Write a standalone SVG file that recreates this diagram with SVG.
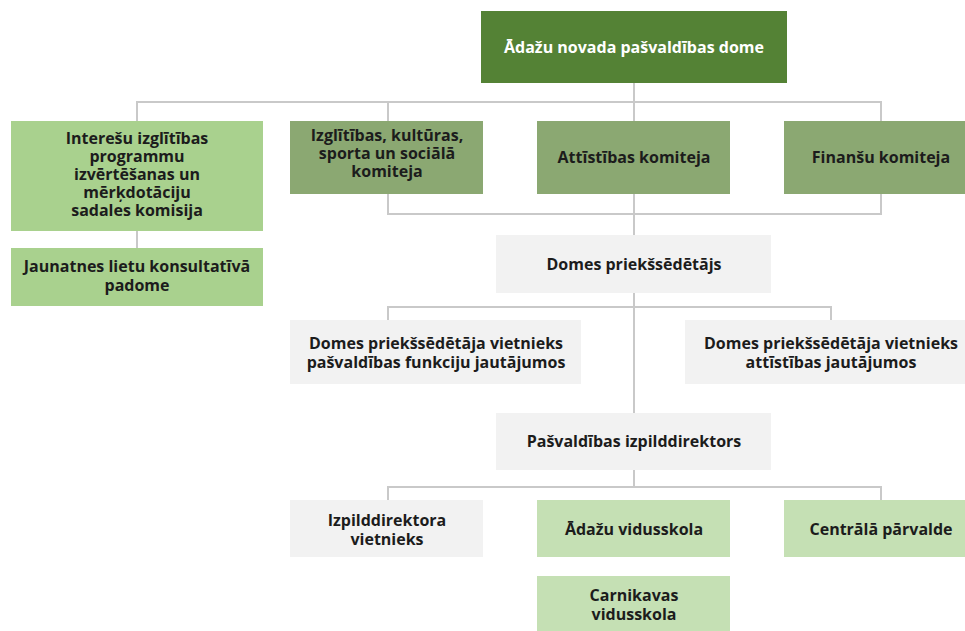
<svg xmlns="http://www.w3.org/2000/svg" width="965" height="631" viewBox="0 0 965 631">
<style>
.t{font-family:"Open Sans","Noto Sans","Liberation Sans",sans-serif;font-weight:700;font-size:16px;fill:#1c1c1c;text-anchor:middle}
.w{fill:#ffffff}
.dk{fill:#548235}
.md{fill:#8ba872}
.lg{fill:#a9d18e}
.lt{fill:#c5e0b4}
.gr{fill:#f2f2f2}
.c{fill:none;stroke:#c9c9c9;stroke-width:2}
</style>
<rect width="965" height="631" fill="#ffffff"/>
<g id="connectors">
<path class="c" d="M634 83V413M137 121V102H881V121M388 102V121M388 194V214H881V194M137 231V248M388 320V307H831V320M634 470V487M388 500V487H881V500"/>
</g>
<g id="n-dome"><rect class="dk" x="481" y="11" width="306" height="72"/><text class="t w" x="634" y="53">Ādažu novada pašvaldības dome</text></g>
<g id="n-interesu"><rect class="lg" x="11" y="121" width="252" height="110"/><text class="t" x="137" y="144"><tspan x="137">Interešu izglītības</tspan><tspan x="137" dy="18">programmu</tspan><tspan x="137" dy="18">izvērtēšanas un</tspan><tspan x="137" dy="18">mērķdotāciju</tspan><tspan x="137" dy="18">sadales komisija</tspan></text></g>
<g id="n-jaunatnes"><rect class="lg" x="11" y="248" width="252" height="58"/><text class="t" x="137" y="272"><tspan x="137">Jaunatnes lietu konsultatīvā</tspan><tspan x="137" dy="19">padome</tspan></text></g>
<g id="n-izglitibas"><rect class="md" x="290" y="121" width="193" height="73"/><text class="t" x="387" y="141"><tspan x="387">Izglītības, kultūras,</tspan><tspan x="387" dy="18">sporta un sociālā</tspan><tspan x="387" dy="18">komiteja</tspan></text></g>
<g id="n-attistibas"><rect class="md" x="537" y="121" width="193" height="73"/><text class="t" x="634" y="163">Attīstības komiteja</text></g>
<g id="n-finansu"><rect class="md" x="784" y="121" width="181" height="73"/><text class="t" x="881" y="163">Finanšu komiteja</text></g>
<g id="n-priekssedetajs"><rect class="gr" x="496" y="235" width="275" height="58"/><text class="t" x="634" y="270">Domes priekšsēdētājs</text></g>
<g id="n-vietnieks1"><rect class="gr" x="290" y="320" width="291" height="64"/><text class="t" x="436" y="349"><tspan x="436">Domes priekšsēdētāja vietnieks</tspan><tspan x="436" dy="19">pašvaldības funkciju jautājumos</tspan></text></g>
<g id="n-vietnieks2"><rect class="gr" x="685" y="320" width="280" height="64"/><text class="t" x="831" y="349"><tspan x="831">Domes priekšsēdētāja vietnieks</tspan><tspan x="831" dy="19">attīstības jautājumos</tspan></text></g>
<g id="n-izpilddirektors"><rect class="gr" x="496" y="413" width="275" height="57"/><text class="t" x="634" y="447">Pašvaldības izpilddirektors</text></g>
<g id="n-izp-vietnieks"><rect class="gr" x="290" y="500" width="193" height="57"/><text class="t" x="387" y="526"><tspan x="387">Izpilddirektora</tspan><tspan x="387" dy="19">vietnieks</tspan></text></g>
<g id="n-adazu"><rect class="lt" x="537" y="500" width="193" height="57"/><text class="t" x="634" y="535">Ādažu vidusskola</text></g>
<g id="n-centrala"><rect class="lt" x="784" y="500" width="181" height="57"/><text class="t" x="881" y="535">Centrālā pārvalde</text></g>
<g id="n-carnikavas"><rect class="lt" x="537" y="576" width="193" height="55"/><text class="t" x="634" y="601"><tspan x="634">Carnikavas</tspan><tspan x="634" dy="19">vidusskola</tspan></text></g>
</svg>
